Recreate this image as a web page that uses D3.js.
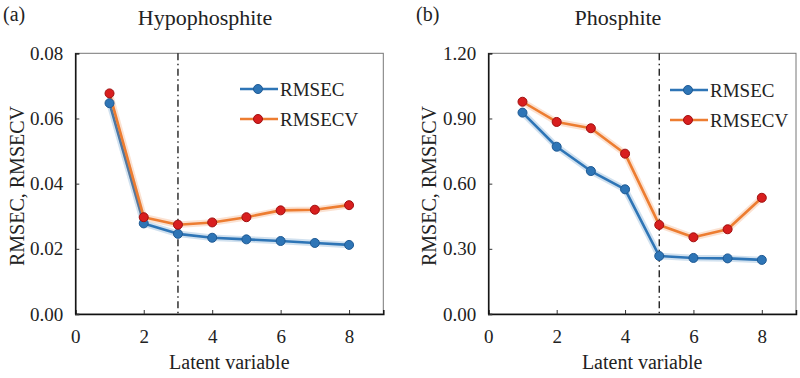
<!DOCTYPE html>
<html><head><meta charset="utf-8">
<script src="https://cdn.jsdelivr.net/npm/d3@7"></script>
<style>body{margin:0;background:#fff}svg{display:block}</style>
</head><body><svg id="c" width="800" height="378"></svg>
<script>
const latent = [1,2,3,4,5,6,7,8];
const hypoRMSEC  = [0.0647,0.0278,0.0246,0.0234,0.0229,0.0224,0.0218,0.0212];
const hypoRMSECV = [0.0677,0.0297,0.0274,0.0281,0.0297,0.0318,0.0320,0.0334];
const phosRMSEC  = [0.927,0.770,0.658,0.574,0.267,0.258,0.256,0.249];
const phosRMSECV = [0.977,0.884,0.855,0.738,0.410,0.353,0.390,0.535];
const xTicks = [0,2,4,6,8];
const hypoYTicks = [0,0.02,0.04,0.06,0.08];
const phosYTicks = [0,0.3,0.6,0.9,1.2];
const seriesNames = ["RMSEC","RMSECV"];

const svg = d3.select("#c");
const colors = {line:["#2e75b6","#ed7d31"], fill:["#2e75b6","#d81e1e"], stroke:["#1f5a94","#a01010"]};
const FONT = "'Liberation Serif','Times New Roman',Times,serif";

function panel(o){
  const g = svg.append("g").attr("font-family",FONT).attr("fill","#222");
  const x = d3.scaleLinear().domain([0,9]).range([o.x0,o.x1]);
  const y = d3.scaleLinear().domain([0,o.ymax]).range([314,53.3]);
  g.append("rect").attr("x",o.x0).attr("y",53.3).attr("width",o.x1-o.x0).attr("height",314-53.3)
    .attr("fill","none").attr("stroke","#777").attr("stroke-width",1);
  const xa = g.append("g").attr("transform","translate(0,314)")
    .call(d3.axisBottom(x).tickValues(xTicks).tickSize(-4).tickPadding(16).tickFormat(d3.format("d")));
  const ya = g.append("g").attr("transform",`translate(${o.x0},0)`)
    .call(d3.axisLeft(y).tickValues(o.yTicks).tickSize(-4).tickPadding(12).tickFormat(d3.format(".2f")));
  [xa,ya].forEach(a=>{
    a.attr("font-family",FONT).attr("font-size",19);
    a.select(".domain").attr("stroke","#111").attr("stroke-width",1.5);
    a.selectAll(".tick line").attr("stroke","#333");
    a.selectAll("text").attr("fill","#222");
  });
  g.append("line").attr("x1",x(o.vx)).attr("x2",x(o.vx)).attr("y1",53.3).attr("y2",314)
    .attr("stroke","#111").attr("stroke-width",1.3).attr("stroke-dasharray","7,3.5,1.5,3.5");
  const line = d3.line().x((d,i)=>x(latent[i])).y(d=>y(d));
  o.series.forEach((s,k)=>{
    g.append("path").datum(s).attr("d",line).attr("fill","none").attr("stroke",colors.line[k])
      .attr("stroke-opacity",0.22).attr("stroke-width",6.5).attr("stroke-linejoin","round");
    g.append("path").datum(s).attr("d",line).attr("fill","none").attr("stroke",colors.line[k])
      .attr("stroke-width",2.6).attr("stroke-linejoin","round");
  });
  o.series.forEach((s,k)=>{
    g.selectAll(null).data(s).enter().append("circle")
      .attr("cx",(d,i)=>x(latent[i])).attr("cy",d=>y(d)).attr("r",4.5)
      .attr("fill",colors.fill[k]).attr("stroke",colors.stroke[k]).attr("stroke-width",1);
  });
  seriesNames.forEach((n,k)=>{
    const ly = o.ly + k*30;
    g.append("line").attr("x1",o.lx).attr("x2",o.lx+38).attr("y1",ly).attr("y2",ly)
      .attr("stroke",colors.line[k]).attr("stroke-width",2.6);
    g.append("circle").attr("cx",o.lx+18).attr("cy",ly).attr("r",4.5)
      .attr("fill",colors.fill[k]).attr("stroke",colors.stroke[k]).attr("stroke-width",1);
    g.append("text").attr("x",o.lx+40).attr("y",ly+6.5).attr("font-size",19).text(n);
  });
  g.append("text").attr("x",o.tx).attr("y",25).attr("text-anchor","middle").attr("font-size",22).text(o.title);
  g.append("text").attr("x",o.lab).attr("y",21).attr("font-size",20).text(o.tag);
  g.append("text").attr("x",(o.x0+o.x1)/2).attr("y",369).attr("text-anchor","middle").attr("font-size",20).text("Latent variable");
  g.append("text").attr("transform",`translate(${o.ylx},186) rotate(-90)`).attr("text-anchor","middle")
    .attr("dy","0.35em").attr("font-size",20).text("RMSEC, RMSECV");
}

panel({x0:75.3,x1:383.3,ymax:0.08,yTicks:hypoYTicks,vx:3,series:[hypoRMSEC,hypoRMSECV],
  lx:240,ly:89,tx:205,title:"Hypophosphite",lab:3,tag:"(a)",ylx:17});
panel({x0:488.3,x1:796,ymax:1.2,yTicks:phosYTicks,vx:5,series:[phosRMSEC,phosRMSECV],
  lx:670,ly:90,tx:618,title:"Phosphite",lab:416,tag:"(b)",ylx:429});
</script></body></html>
